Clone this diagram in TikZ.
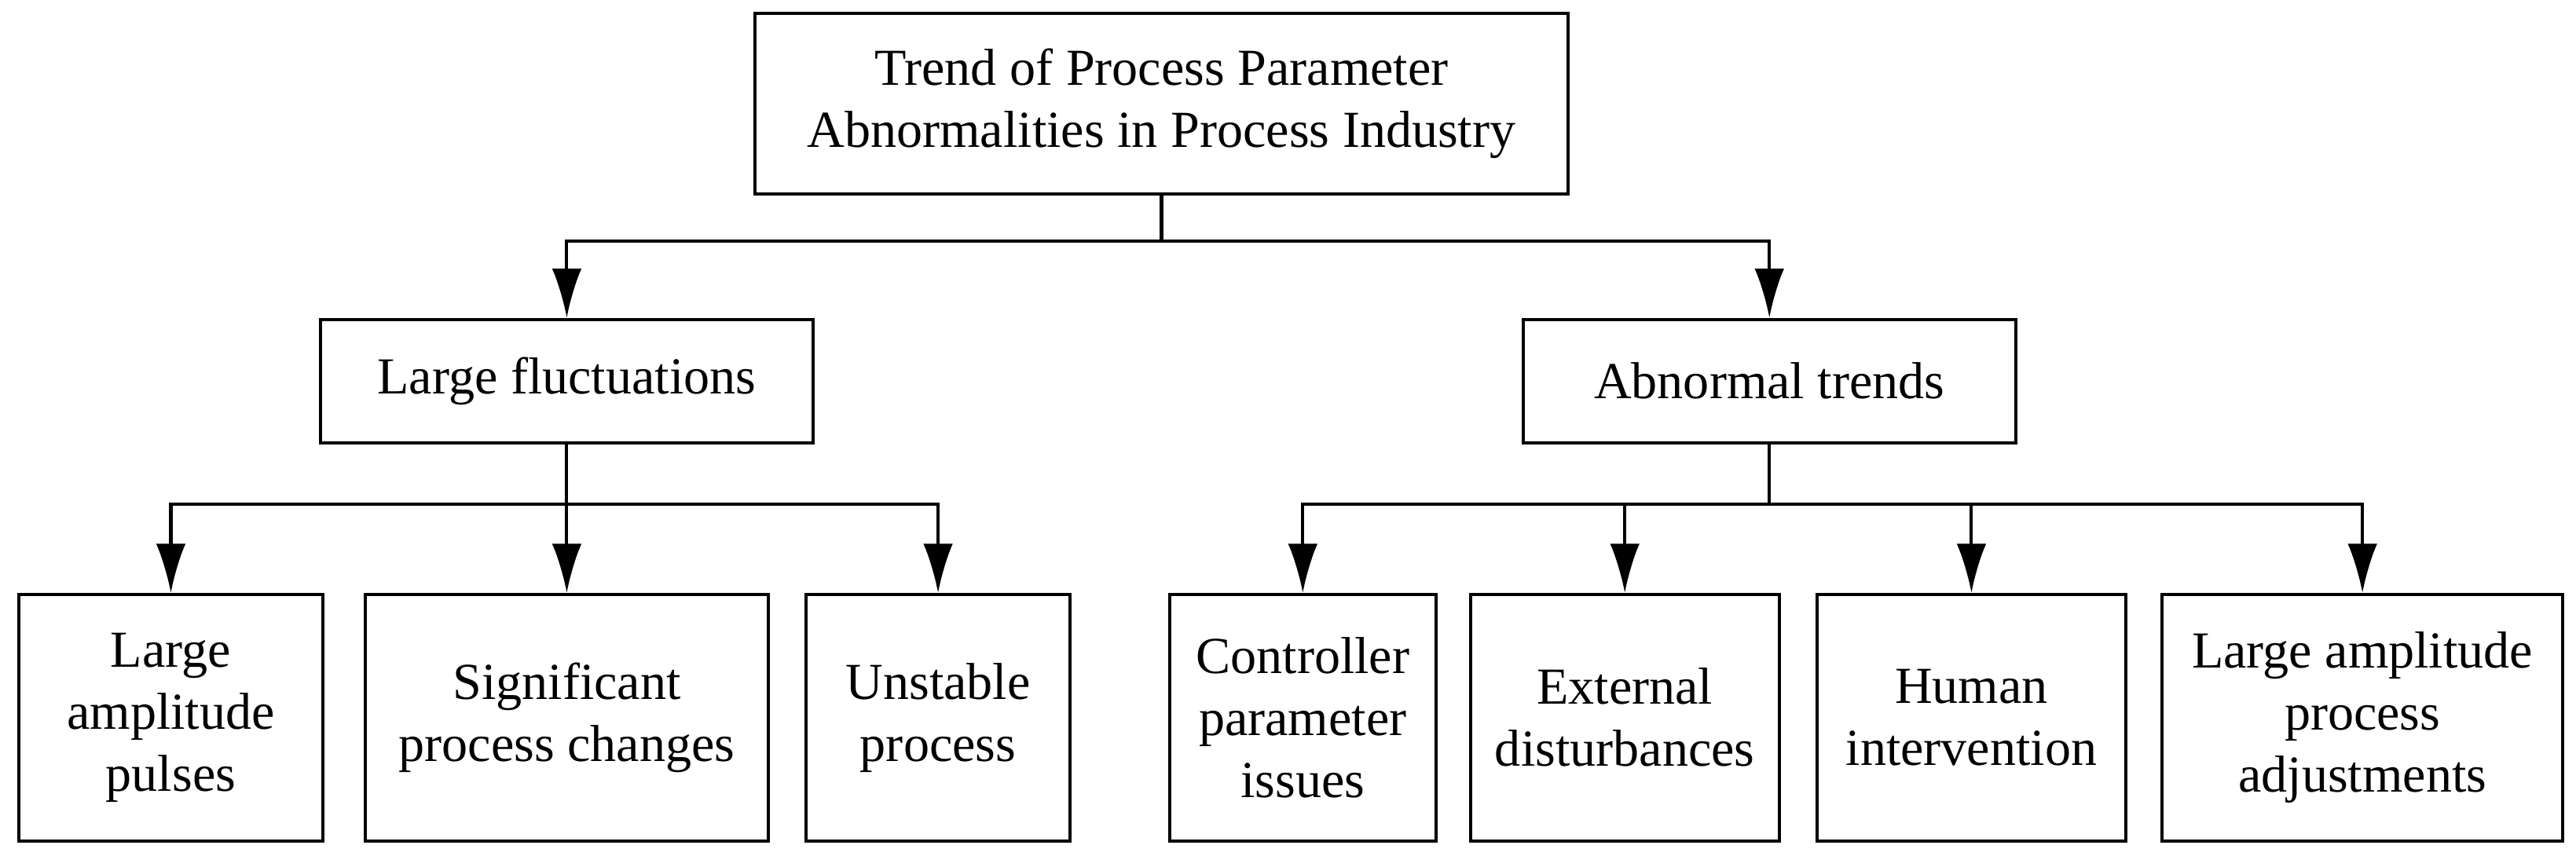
\documentclass[tikz,border=0pt]{standalone}
\usepackage{fontspec}
\setmainfont{Liberation Serif}
\usetikzlibrary{arrows.meta}

\begin{document}
\begin{tikzpicture}[x=0.02cm, y=-0.02cm, line width=1.1pt,
    box/.style={draw, align=center, inner sep=0pt, font=\fontsize{18}{21.5}\selectfont},
    arr/.style={-{Latex[length=0.6cm, width=0.36cm]}}]
        \useasboundingbox (0,0) rectangle (1568,521);
        % boxes
        \node [box, minimum width=9.9cm, minimum height=2.2cm] (T) at (707,63) {Trend of Process Parameter\\Abnormalities in Process Industry};
        \node [box, minimum width=6cm, minimum height=1.5cm] (LF) at (345,232) {Large fluctuations};
        \node [box, minimum width=6cm, minimum height=1.5cm] (AT) at (1077,232) {Abnormal trends};
        \node [box, minimum width=3.7cm, minimum height=3cm] (B1) at (104,437) {Large\\amplitude\\pulses};
        \node [box, minimum width=4.9cm, minimum height=3cm] (B2) at (345,437) {Significant\\process changes};
        \node [box, minimum width=3.22cm, minimum height=3cm] (B3) at (571,437) {Unstable\\process};
        \node [box, minimum width=3.24cm, minimum height=3cm] (B4) at (793,437) {Controller\\parameter\\issues};
        \node [box, minimum width=3.76cm, minimum height=3cm] (B5) at (989,437) {External\\disturbances};
        \node [box, minimum width=3.76cm, minimum height=3cm] (B6) at (1200,437) {Human\\intervention};
        \node [box, minimum width=4.88cm, minimum height=3cm] (B7) at (1438,437) {Large amplitude\\process\\adjustments};

        % buses
        \coordinate (J0) at (707,147);
        \coordinate (J1) at (345,307);
        \coordinate (J2) at (1077,307);

        \draw (T) -- (J0);
        \draw [arr] (J0) -| (LF);
        \draw [arr] (J0) -| (AT);
        \draw (LF) -- (J1);
        \foreach \b in {B1,B2,B3} \draw [arr] (J1) -| (\b);
        \draw (AT) -- (J2);
        \foreach \b in {B4,B5,B6,B7} \draw [arr] (J2) -| (\b);
\end{tikzpicture}
\end{document}
